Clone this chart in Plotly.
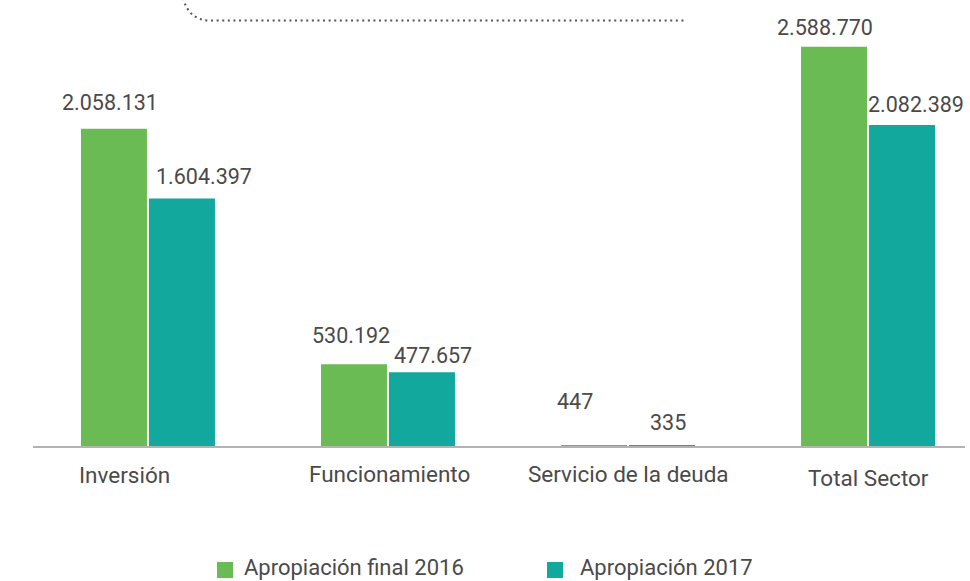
import plotly.graph_objects as go

# ---- data ----
categories = ["Inversión", "Funcionamiento", "Servicio de la deuda", "Total Sector"]
series_names = ["Apropiación final 2016", "Apropiación 2017"]
apropiacion_2016 = [2058131, 530192, 447, 2588770]
apropiacion_2017 = [1604397, 477657, 335, 2082389]

# ---- style ----
GREEN = "#6ABB53"
TEAL = "#12A89E"
TEXT = "#4a4a4a"
FONT = "Roboto"

W, H = 970, 581
ML, MR, MT, MB = 33, 5, 20, 135
PW, PH = W - ML - MR, H - MT - MB


def fmt(v):
    return f"{v:,}".replace(",", ".")


def px(x, y):
    """pixel -> paper coordinates (for decorations only)"""
    return (x - ML) / PW, (H - MB - y) / PH


fig = go.Figure()
fig.add_trace(go.Bar(x=categories, y=apropiacion_2016, name=series_names[0],
                     marker=dict(color=GREEN, line=dict(width=0))))
fig.add_trace(go.Bar(x=categories, y=apropiacion_2017, name=series_names[1],
                     marker=dict(color=TEAL, line=dict(width=0))))

annotations = []
# value labels (offsets relative to each bar top / centre, in pixels)
shift_2016 = [(-4, 26), (-2.5, 28.5), (-19, 44.5), (-9, 19.5)]
shift_2017 = [(22.5, 22.5), (11.5, 17), (5.5, 23.5), (14, 20)]
for vals, shifts, off in ((apropiacion_2016, shift_2016, -34), (apropiacion_2017, shift_2017, 34)):
    for c, v, (dx, dy) in zip(categories, vals, shifts):
        annotations.append(dict(x=c, y=v, xref="x", yref="y", text=fmt(v),
                                showarrow=False, xanchor="center", yanchor="middle",
                                xshift=off + dx, yshift=dy,
                                font=dict(family=FONT, size=21.5, color=TEXT)))

# category labels
cat_shift = [(-23, -29), (2, -28), (0.5, -28), (0.5, -32)]
for c, (dx, dy) in zip(categories, cat_shift):
    annotations.append(dict(x=c, y=0, xref="x", yref="y", text=c, showarrow=False,
                            xanchor="center", yanchor="middle", xshift=dx, yshift=dy,
                            font=dict(family=FONT, size=22.5, color=TEXT)))

# manual legend
shapes = []
legend_items = [(series_names[0], GREEN, 217, 243), (series_names[1], TEAL, 547, 579)]
for name, col, sx, tx in legend_items:
    x0, y0 = px(sx, 578)
    x1, y1 = px(sx + 16, 562)
    shapes.append(dict(type="rect", xref="paper", yref="paper", x0=x0, y0=y0, x1=x1, y1=y1,
                       fillcolor=col, line=dict(width=0)))
    ax, ay = px(tx, 567)
    annotations.append(dict(x=ax, y=ay, xref="paper", yref="paper", text=name,
                            showarrow=False, xanchor="left", yanchor="middle", borderpad=0,
                            font=dict(family=FONT, size=22, color=TEXT)))

# dotted decoration at the top
p0 = px(183, -2)
pc = px(189, 20.5)
p1 = px(210, 20.5)
p2 = px(685, 20.5)
path = f"M {p0[0]},{p0[1]} Q {pc[0]},{pc[1]} {p1[0]},{p1[1]} L {p2[0]},{p2[1]}"
shapes.append(dict(type="path", xref="paper", yref="paper", path=path,
                   line=dict(color="#555555", width=2, dash="2px,3.6px")))

fig.update_layout(
    width=W, height=H,
    margin=dict(l=ML, r=MR, t=MT, b=MB, pad=0),
    paper_bgcolor="white", plot_bgcolor="white",
    barmode="group", bargap=0.4333, bargroupgap=0.03,
    showlegend=False,
    xaxis=dict(type="category", range=[-0.479, 3.404], showticklabels=False,
               showline=True, linecolor="#b3b3b3", linewidth=2, showgrid=False,
               zeroline=False, ticks=""),
    yaxis=dict(range=[0, 2762646], visible=False, showgrid=False, zeroline=False),
    annotations=annotations,
    shapes=shapes,
    font=dict(family=FONT, color=TEXT),
)

fig.write_html("out.html", config={"displayModeBar": False},
               post_script="document.body.style.margin='0';document.body.style.overflow='hidden';")
